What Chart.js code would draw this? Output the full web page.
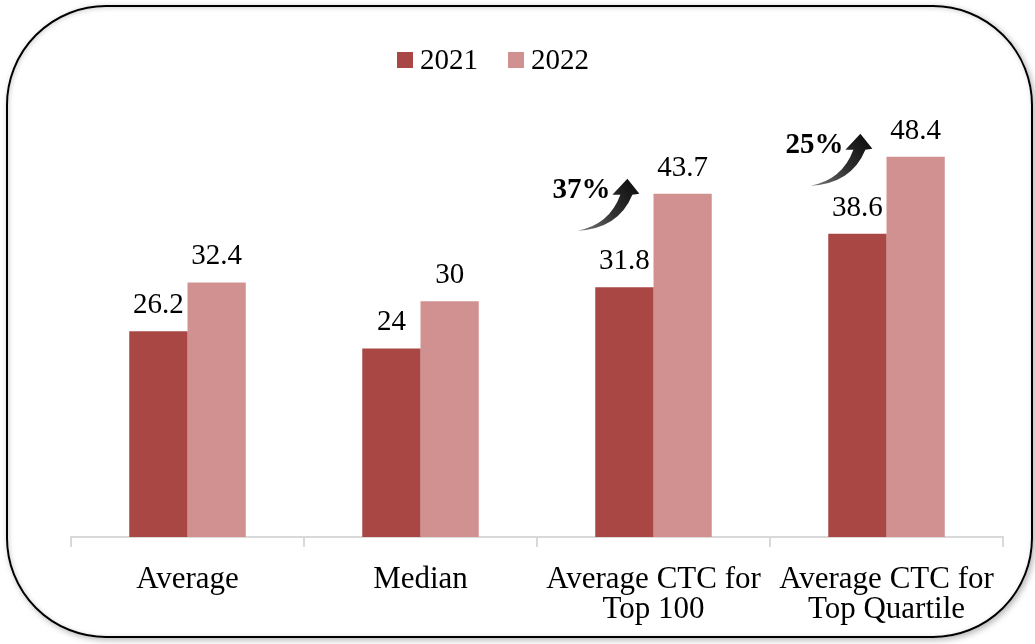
<!DOCTYPE html>
<html>
<head>
<meta charset="utf-8">
<script src="https://cdn.jsdelivr.net/npm/chart.js@4/dist/chart.umd.min.js"></script>
<style>
  html, body { margin: 0; padding: 0; background: #fff; }
  #wrap { position: relative; width: 1035px; height: 644px; overflow: hidden; }
  #chart { position: absolute; left: 0; top: 0; }
  #frame {
    position: absolute; left: 6px; top: 5px; width: 1027px; height: 633px;
    box-sizing: border-box; border: 2px solid #000; border-radius: 100px;
    box-shadow: 2px 2px 6px rgba(0,0,0,0.3), inset 1px 1px 5px rgba(0,0,0,0.18);
    pointer-events: none;
  }
</style>
</head>
<body>
<div id="wrap">
  <canvas id="chart" width="1035" height="644"></canvas>
  <div id="frame"></div>
</div>
<script>
// ─── Data ────────────────────────────────────────────────────────────────────
const categories = [
  "Average",
  "Median",
  ["Average CTC for", "Top 100"],
  ["Average CTC for", "Top Quartile"],
];
const values2021 = [26.2, 24, 31.8, 38.6];
const values2022 = [32.4, 30, 43.7, 48.4];
const seriesNames = ["2021", "2022"];
// growth callouts: category index and text
const growthCategory = [2, 3];
const growthText = ["37%", "25%"];

const SERIF = "'Liberation Serif', 'DejaVu Serif', serif";
const COLORS = ["#a94744", "#d19191"];

// ─── Plugins ─────────────────────────────────────────────────────────────────
const valueLabels = {
  id: "valueLabels",
  afterDatasetsDraw(chart) {
    const ctx = chart.ctx;
    ctx.save();
    ctx.font = `29px ${SERIF}`;
    ctx.fillStyle = "#000";
    ctx.textAlign = "center";
    ctx.textBaseline = "alphabetic";
    chart.data.datasets.forEach((ds, di) => {
      chart.getDatasetMeta(di).data.forEach((bar, i) => {
        ctx.fillText(String(ds.data[i]), bar.x, bar.y - 18);
      });
    });
    ctx.restore();
  },
};

// simple legend so it can sit slightly left of the plot centre like the original
const topLegend = {
  id: "topLegend",
  afterDraw(chart) {
    const ctx = chart.ctx;
    const area = chart.chartArea;
    ctx.save();
    ctx.font = `29px ${SERIF}`;
    ctx.textBaseline = "middle";
    ctx.textAlign = "left";
    const box = 16, gap = 7, itemGap = 30;
    const widths = seriesNames.map((n) => box + gap + ctx.measureText(n).width);
    const total = widths.reduce((a, b) => a + b, 0) + itemGap * (widths.length - 1);
    let x = (area.left + area.right) / 2 - 44 - total / 2;
    const y = 60;
    seriesNames.forEach((name, i) => {
      ctx.fillStyle = COLORS[i];
      ctx.fillRect(x, y - box / 2, box, box);
      ctx.fillStyle = "#000";
      ctx.fillText(name, x + box + gap, y + 1);
      x += widths[i] + itemGap;
    });
    ctx.restore();
  },
};

function drawArrow(ctx, cx, cy) {
  const grad = ctx.createLinearGradient(cx - 3, cy + 39, cx + 50, cy - 8);
  grad.addColorStop(0, "#777");
  grad.addColorStop(0.5, "#333");
  grad.addColorStop(1, "#111");
  ctx.fillStyle = grad;
  ctx.beginPath();
  ctx.moveTo(cx - 4, cy + 40);
  ctx.quadraticCurveTo(cx + 37, cy + 38, cx + 51, cy + 4);
  ctx.lineTo(cx + 58, cy + 3);
  ctx.lineTo(cx + 46, cy - 12);
  ctx.lineTo(cx + 31, cy + 4);
  ctx.lineTo(cx + 39, cy + 4);
  ctx.quadraticCurveTo(cx + 28, cy + 34, cx - 4, cy + 40);
  ctx.closePath();
  ctx.fill();
}

const growthCallouts = {
  id: "growthCallouts",
  afterDatasetsDraw(chart) {
    const ctx = chart.ctx;
    const bars2021 = chart.getDatasetMeta(0).data;
    const bars2022 = chart.getDatasetMeta(1).data;
    ctx.save();
    growthCategory.forEach((ci, k) => {
      const cx = bars2021[ci].x - 43;
      const cy = bars2022[ci].y - 3 - k * 8;
      ctx.font = `bold 29px ${SERIF}`;
      ctx.fillStyle = "#000";
      ctx.textAlign = "center";
      ctx.textBaseline = "middle";
      ctx.fillText(growthText[k], cx, cy);
      drawArrow(ctx, cx, cy);
    });
    ctx.restore();
  },
};

// ─── Chart ───────────────────────────────────────────────────────────────────
new Chart(document.getElementById("chart"), {
  type: "bar",
  data: {
    labels: categories,
    datasets: [
      {
        label: seriesNames[0],
        data: values2021,
        backgroundColor: COLORS[0],
        categoryPercentage: 0.5,
        barPercentage: 1.0,
      },
      {
        label: seriesNames[1],
        data: values2022,
        backgroundColor: COLORS[1],
        categoryPercentage: 0.5,
        barPercentage: 1.0,
      },
    ],
  },
  options: {
    responsive: false,
    animation: false,
    layout: { padding: { top: 97, left: 71, right: 32, bottom: 0 } },
    plugins: {
      legend: { display: false },
      tooltip: { enabled: false },
    },
    scales: {
      y: {
        display: false,
        min: 0,
        max: 56,
      },
      x: {
        border: { color: "#d9d9d9", width: 2 },
        grid: {
          offset: true,
          drawOnChartArea: false,
          tickLength: 10,
          color: "#d9d9d9",
          lineWidth: 2,
        },
        ticks: {
          color: "#000",
          padding: 18,
          font: { family: SERIF, size: 31, lineHeight: 0.97 },
          maxRotation: 0,
        },
        afterFit: (scale) => { scale.height = 107; },
      },
    },
  },
  plugins: [valueLabels, growthCallouts, topLegend],
});
</script>
</body>
</html>
